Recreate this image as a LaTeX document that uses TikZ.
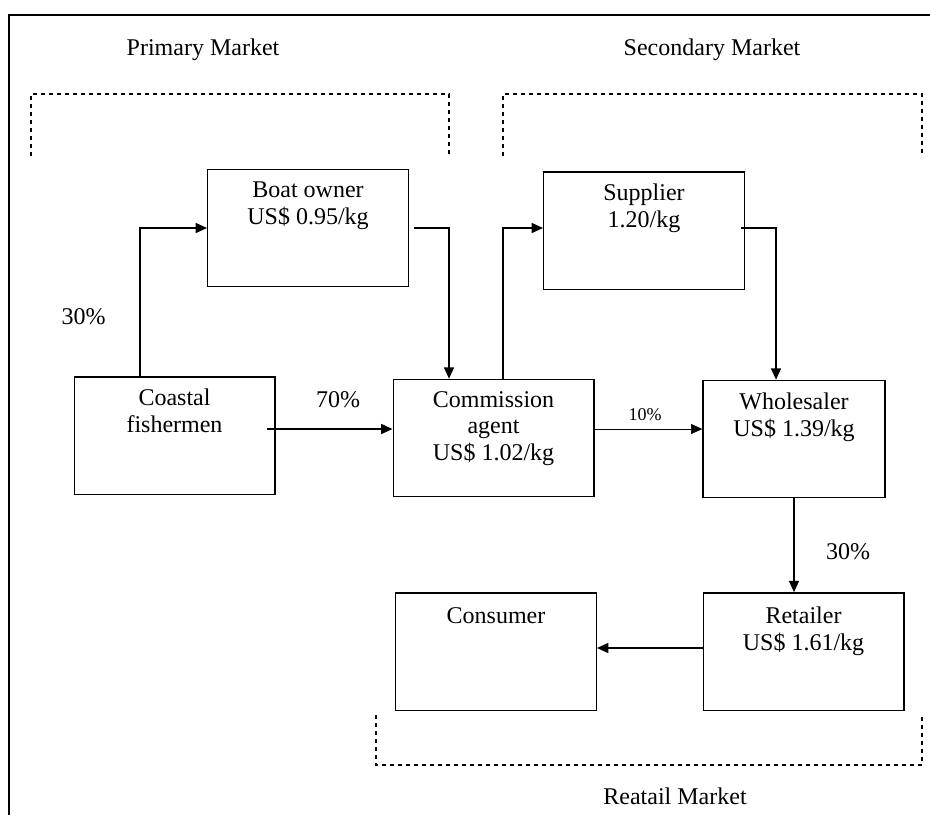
\documentclass[tikz,border=0pt]{standalone}
\usepackage{fontspec}
\setmainfont{Liberation Serif}
\usetikzlibrary{arrows.meta,calc}
\begin{document}
\begin{tikzpicture}[x=0.75pt,y=-0.75pt,
  box/.style={draw,line width=1pt,inner sep=0pt,minimum width=150.5pt,minimum height=88pt},
  txt/.style={anchor=north,inner sep=0pt,align=center,font=\fontsize{18}{19.9}\selectfont},
  small/.style={anchor=north,inner sep=0pt,font=\fontsize{13.5}{15}\selectfont},
  tip/.style={-{Triangle[length=8.5pt,width=7.5pt]}},
  arr/.style={line width=1.1pt,tip},
  bracket/.style={line width=0.8pt,dash pattern=on 3pt off 3pt},
  frame/.style={line width=1.5pt}]
\useasboundingbox (0,0) rectangle (930,815);
% outer frame (left and top edges visible)
\draw[frame] (9,815) -- (9,15) -- (930,15);
% market labels
\node[txt] (prim) at (203,39) {Primary Market};
\node[txt] (sec) at (712,39) {Secondary Market};
\node[txt] (retm) at (675,788) {Reatail Market};
% dashed brackets
\draw[bracket] (31,156) -- (31,94) -- (449,94) -- (449,156);
\draw[bracket] (503,156) -- (503,94) -- (922,94) -- (922,156);
\draw[bracket] (376,715) -- (376,765) -- (922,765) -- (922,715);
% boxes
\node[box] (boat) at (308,228) {};
\node[box] (coast) at (174.5,435.5) {};
\node[box] (comm) at (493.5,438) {};
\node[box] (supp) at (644,230.5) {};
\node[box,minimum width=136.5pt] (whol) at (794,439) {};
\node[box] (cons) at (496,651.5) {};
\node[box] (ret) at (803.5,651.5) {};
% box texts
\node[txt] (boatT) at (308,182) {Boat owner\\US\$ 0.95/kg};
\node[txt] (coastT) at (174.5,389) {Coastal\\fishermen};
\node[txt] (commT) at (493.5,391) {Commission\\agent\\US\$ 1.02/kg};
\node[txt] (suppT) at (644,184) {Supplier\\1.20/kg};
\node[txt] (wholT) at (794,393) {Wholesaler\\US\$ 1.39/kg};
\node[txt] (consT) at (496,607) {Consumer};
\node[txt] (retT) at (803.5,607) {Retailer\\US\$ 1.61/kg};
% percentages
\node[txt] (p30a) at (83.5,308) {30\%};
\node[txt] (p70) at (338,391) {70\%};
\node[small] (p10) at (645,408) {10\%};
\node[txt] (p30b) at (848,543) {30\%};
% connectors
\draw[arr] ($(coast.north)+(-34.5,0)$) |- (boat.west);
\draw[arr] ($(boat.east)+(5,0)$) -| ($(comm.north)+(-44.5,0)$);
\draw[arr] ($(comm.north)+(9.5,0)$) |- ($(supp.west)+(0,-2.5)$);
\draw[arr] ($(supp.east)+(-4,-2.5)$) -| ($(whol.north)+(-18,0)$);
\draw[arr] ($(comm.west)+(0,-9)$) coordinate (cw) ++(-126,0) -- (cw);
\draw[line width=0.5pt,tip] ($(comm.east)+(0,-9)$) coordinate (ce) -- (ce -| whol.west);
\draw[arr] (whol.south) -- (whol.south |- ret.north);
\draw[arr] ($(ret.west)+(0,-3.5)$) coordinate (rw) -- (rw -| cons.east);
\end{tikzpicture}
\end{document}
